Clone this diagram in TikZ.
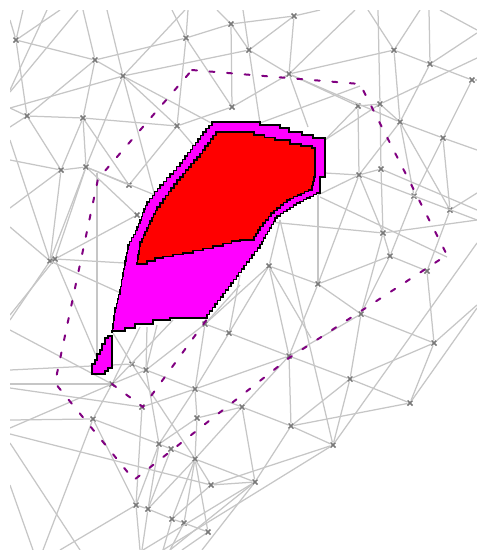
\documentclass[tikz,border=0pt]{standalone}
\usetikzlibrary{shapes.misc}
\definecolor{meshline}{RGB}{198,198,198}
\definecolor{meshmark}{RGB}{120,120,120}
\definecolor{blobfill}{RGB}{255,0,255}
\definecolor{corefill}{RGB}{255,0,0}
\definecolor{contour}{RGB}{128,0,128}
\begin{document}
\begin{tikzpicture}[
    x=1pt, y=-1pt,
    vertex/.style={draw=meshmark, cross out, line width=1.5pt, minimum size=5pt, inner sep=0pt, outer sep=0pt},
    edge/.style={draw=meshline, line width=1.25pt},
    bound/.style={draw=contour, line width=2pt, dash pattern=on 5pt off 12.6pt, line cap=round},
    blob/.style={fill=blobfill, draw=black, line width=1.3pt},
    core/.style={fill=corefill, draw=black, line width=1.6pt},
]
\useasboundingbox (0,0) rectangle (477,550);
\begin{scope}
\clip (10,10) rectangle (477,550);
% Free ends and hidden vertices
\foreach \n/\x/\y in {
    t23/23/10, t47/47/10, t60/60/10, t78/78/10, t83/83/10, t107/107/10, t172/172/10, t185/185/10, t188/188/10, t217/217/10,
    t243/243/10, t320/320/10, t355/355/10, t368/368/10, t378/378/10, t420/420/10, t429/429/10, t440/440/10,
    l20/10/20, l90/10/90, l92/10/92, l108/10/108, l127/10/127, l140/10/140, l160/10/160, l208/10/208, l227/10/227, l315/10/315,
    l320/10/320, l330/10/330, l370/10/370, l384/10/384, l388/10/388, l420/10/420, l428/10/428, l434/10/434, l443/10/443, l485/10/485,
    b33/33/550, b43/43/550, b60/60/550, b80/80/550, b140/140/550, b142/142/550, b143/143/550, b163/163/550, b170/170/550, b182/182/550, b202/202/550,
    r33/477/33, r30/477/30, r58/477/58, r80/477/80, r150/477/150, r193/477/193, r210/477/210, r220/477/220, r243/477/243, r305/477/305, r308/477/308,
    h1/97/358, h2/97/173, h3/155/195, h4/215/125, h5/195/147, h6/125/263, h7/160/215, h8/260/123, h9/308/127, h10/325/140, h11/325/173,
    h12/318/195, h13/270/222, h14/280/220, h15/113/333, h16/140/327, h17/147/327, h18/157/325, h19/173/320, h20/240/275, h21/240/285,
    h22/125/295, h23/360/86, h24/447/257, h25/320/197, h26/311/338}
    \coordinate (\n) at (\x,\y);
% Mesh vertices
\foreach \n/\x/\y in {
    a1/16/40, a2/95/60, a3/123/76, a4/186/38, a5/231/24, a6/232/107, a7/177/126, a8/27/116, a9/83/118, a10/61/170,
    a11/86/167, a12/129/185, a13/137/215, a14/50/261, a15/55/259,
    b1/294/16, b2/249/50, b3/289/74, b4/394/50, b5/430/64, b6/472/80, b7/358/106, b8/380/104, b9/400/122, b10/443/138,
    b11/359/175, b12/381/169, b13/414/196, b14/450/210, b15/383/233, b16/390/256, b17/427/271, b18/269/266,
    c1/132/364, c2/146/370, c3/112/384, c4/205/324, c5/229/333, c6/195/389, c7/197/418, c8/93/419, c9/159/444, c10/171/449,
    c11/195/459, c12/211/485, c13/136/505, c14/148/509, c15/172/519, c16/184/523, c17/208/532,
    d1/318/284, d2/361/314, d3/434/343, d4/289/356, d5/350/379, d6/410/403, d7/242/407, d8/291/426, d9/333/445, d10/255/482,
    e1/142/407}
    \node[vertex] (\n) at (\x,\y) {};
% Mesh edges
\foreach \p/\q in {
    a1/t23, a1/l20, a1/t60, a1/a2, a1/a8, l90/t47, l92/t78, a2/t83, a2/a3, a2/a8, a2/a9, a2/a4, a3/t107, a3/t185, a3/b2, a3/a7,
    a3/a11, a3/l108, a3/h7, a3/h4, a4/t172, a4/t188, a4/a5, a4/a6, a4/a7, a5/t217, a5/b1, a5/a6, a5/b2, a6/a7, a6/b3, a7/a9, a7/a12, a7/h5,
    a8/a9, a8/a10, a8/l108, a8/l127, a9/a10, a9/a11, a9/a12, a10/a11, a10/l160, a10/a14, a10/l208, a11/a14, a11/a15, a11/a12, a11/h3,
    a11/a13, a13/a15, l140/a14, a14/l227, a14/l320, a15/l315, a15/h6, a15/h1, h2/h1, a14/h22,
    b1/t320, b1/b3, b1/b2, b2/t243, b2/b3, b2/h8, b3/t355, b3/b4, b3/b7, b3/b9, b3/h9, b7/b8, b7/b11, h8/h23, b8/h10, b7/h10,
    b8/t378, b8/b9, b8/b12, b12/b15, b4/t368, b4/t420, b4/b5, b4/b9, b5/t429, b5/b6, b5/b9, t440/r30, b5/r33, b8/r58, b6/b10, b6/r80,
    b9/b10, b9/b13, b9/b14, b9/b11, b10/r150, b10/b13, b10/b14, b11/b12, b11/b15, b11/h11, b11/h12, b11/d1, b11/r220, b12/r210,
    b13/b16, b14/r193, b14/b17, b15/r220, b15/h13, b15/b16, b15/d2, b16/d2, b16/b17, h25/h24, h14/b18, h14/d9, b18/h26,
    l330/c3, l370/c1, l384/c3, l388/e1, l420/c8, l428/c3, l434/c12, l443/b80, l485/b33, c8/b43, c8/c9, c8/c13, c8/c3, c3/c2, c1/c2, c2/c6,
    c1/c11, c1/h15, c3/h16, c2/h17, c2/h18, c3/h19, c4/c2, c4/c5, c4/c6, c5/c6, c5/h20, c4/h21, c6/d4, c6/d7, c6/c7, c6/c9, c7/c11, c7/c9,
    c7/d7, c9/c10, c10/c11, c11/d10, c2/c9, c9/c13, c9/c14, c10/c14, c11/c14, c11/c15, c11/c16, c11/c17, c11/c12, c11/d7, c12/c15, c12/d10,
    c13/c14, c14/c15, c15/c16, c16/c17, c13/b140, c13/b60, c14/b142, c15/b163, c16/b170, b143/d10, b170/d10, c17/b182, c12/d9, d9/b163, d10/b202,
    e1/c13, e1/c6, d1/d2, d1/d4, d1/b16, d1/b18, d1/h12, d4/b18, d4/c5, d4/d7, d4/d8, d4/d5, d4/d2, b18/c5, b18/c4, d2/d3, d2/d5, d3/d5, d3/d6,
    d3/b17, d3/r305, d5/d6, d5/d8, d5/d9, d6/d8, d6/r308, d8/d9, d8/d10, d7/d8, d7/d10, d9/r243}
    \draw[edge] (\p) -- (\q);
\end{scope}
% Search boundary
\draw[bound] (192,70) -- (360,84) -- (447,255) -- (289,358) -- (134,480) -- (55,383) -- (98,179) -- cycle;
\draw[bound] (112,384) -- (143,407) -- (210,315);
% Reached set
\draw[blob] (212,122) \foreach \xb/\yb/\m [remember=\xb as \xa (initially 212), remember=\yb as \ya (initially 122)] in {
    260/122/1, 260/125/1, 280/128/1, 289/132/1, 302/135/1, 313/138/1, 325/138/1, 325/177/1, 321/177/1, 320/193/1,
    300/203/6, 277/218/7, 260/248/9, 207/318/20, 170/320/1, 153/324/1, 135/328/1, 125/331/1, 112/332/1,
    115/308/6, 120/290/4, 123/273/5, 128/245/7, 137/227/5, 147/202/7, 160/185/5, 180/163/6, 203/132/9, 212/122/3}
    {\foreach \i in {1,...,\m} { -| ({\xa+(\xb-\xa)*\i/\m},{\ya+(\yb-\ya)*\i/\m}) }} -- cycle;
\draw[blob] (105,338) -| (108,336) -| (112,335) -| (112,368) -| (108,371) -| (105,374) -| (92,374) -| (92,364) -| (95,360) -| (97,354) -| (100,350) -| (102,344) -| cycle;
\draw[core] (216,132) \foreach \xb/\yb/\m [remember=\xb as \xa (initially 216), remember=\yb as \ya (initially 132)] in {
    237/132/1, 254/135/1, 275/140/2, 290/144/1, 312/148/2, 315/153/1, 315/177/1, 312/190/3, 290/200/6, 274/213/5,
    260/230/5, 254/240/3, 240/241/1, 223/246/2, 193/253/3, 163/258/3, 147/264/2, 137/263/1, 140/242/5, 157/207/10,
    177/180/7, 197/157/7, 216/132/7}
    {\foreach \i in {1,...,\m} { -| ({\xa+(\xb-\xa)*\i/\m},{\ya+(\yb-\ya)*\i/\m}) }} -- cycle;
\end{tikzpicture}
\end{document}
